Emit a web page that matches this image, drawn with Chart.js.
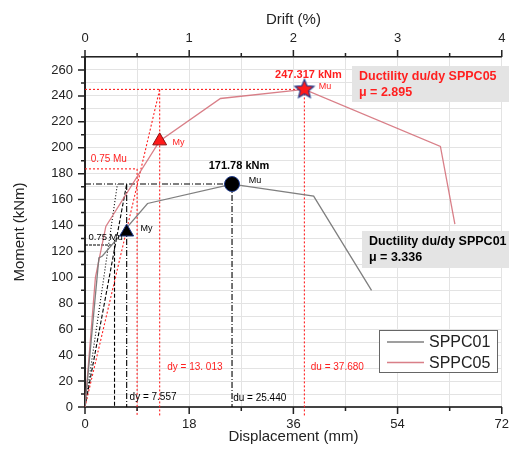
<!DOCTYPE html>
<html>
<head>
<meta charset="utf-8">
<script src="https://cdn.jsdelivr.net/npm/chart.js@4.4.1/dist/chart.umd.min.js"></script>
<style>
	html, body { margin: 0; padding: 0; background: #ffffff; }
	#wrap { width: 509px; height: 461px; }
</style>
</head>
<body>
<div id="wrap"><canvas id="moment-chart" width="509" height="461"></canvas></div>
<script>
// Moment - displacement curves, SPPC01 vs SPPC05
var seriesNames = ['SPPC01', 'SPPC05'];

// Displacement (mm) / moment (kNm)
var sppc01Disp   = [0, 2.4, 3.0, 10.8, 25.4, 39.5, 49.5];
var sppc01Moment = [0, 115, 116.5, 157, 172, 162.7, 90];
var sppc05Disp   = [0, 1.8, 3.6, 12.9, 23.4, 37.9, 61.4, 63.9];
var sppc05Moment = [0, 100, 139.3, 205.3, 238, 245, 201, 141];

// Yield / ultimate points  [disp, moment]
var sppc01Yield = [7.2, 135];
var sppc01Ult   = [25.4, 172];
var sppc05Yield = [12.9, 205.3];
var sppc05Ult   = [37.9, 245];

// Construction values
var sppc01Dy = 7.2, sppc01Du = 25.4, sppc01Mu = 172, sppc01Mu75 = 129, sppc01D75 = 5.1;
var sppc05Dy = 12.9, sppc05Du = 37.9, sppc05Mu = 245, sppc05Mu75 = 183.7, sppc05D75 = 9.0;

// Axis ticks
var dispTicks  = [0, 18, 36, 54, 72];
var driftTicks = [0, 1, 2, 3, 4];
var momentTicks = [0, 20, 40, 60, 80, 100, 120, 140, 160, 180, 200, 220, 240, 260];

(function () {
	'use strict';

	var FONT = '"Liberation Sans", Arial, sans-serif';
	var GREY = 'rgba(120, 120, 120, 0.95)';
	var PINK = 'rgba(210, 105, 115, 0.85)';
	var RED = '#ff1f1f';

	function pts(xs, ys) {
		var out = [];
		for (var i = 0; i < xs.length; i++) {
			out.push({ x: xs[i], y: ys[i] });
		}
		return out;
	}

	// filled star used for the SPPC05 ultimate point
	function makeStar(r, fill, stroke) {
		var c = document.createElement('canvas');
		var s = r * 2 + 4;
		c.width = s;
		c.height = s;
		var g = c.getContext('2d');
		g.beginPath();
		for (var i = 0; i < 10; i++) {
			var rad = i % 2 === 0 ? r : r * 0.45;
			var a = -Math.PI / 2 + i * Math.PI / 5;
			g.lineTo(s / 2 + rad * Math.cos(a), s / 2 + rad * Math.sin(a));
		}
		g.closePath();
		g.fillStyle = fill;
		g.fill();
		g.lineWidth = 1.2;
		g.strokeStyle = stroke;
		g.stroke();
		return c;
	}

	function guide(data, color, dash) {
		return {
			type: 'scatter',
			data: data,
			showLine: true,
			borderColor: color,
			borderWidth: 1.1,
			borderDash: dash,
			pointRadius: 0,
			fill: false,
			clip: false
		};
	}

	var redDot = [2, 2];
	var dashDot = [6, 2, 1, 2];
	var dashed = [4, 2];

	var datasets = [
		// markers on top
		{ type: 'scatter', data: [{ x: sppc05Ult[0], y: sppc05Ult[1] }], pointStyle: makeStar(10, '#ff1a1a', '#1f3a8a'), pointRadius: 10, clip: false },
		{ type: 'scatter', data: [{ x: sppc01Ult[0], y: sppc01Ult[1] }], pointStyle: 'circle', pointRadius: 7.5, backgroundColor: '#000000', borderColor: '#1f3a8a', borderWidth: 1 },
		{ type: 'scatter', data: [{ x: sppc05Yield[0], y: sppc05Yield[1] }], pointStyle: 'triangle', pointRadius: 8, backgroundColor: '#ff1a1a', borderColor: '#8a1010', borderWidth: 1 },
		{ type: 'scatter', data: [{ x: sppc01Yield[0], y: sppc01Yield[1] }], pointStyle: 'triangle', pointRadius: 8, backgroundColor: '#000000', borderColor: '#1f3a8a', borderWidth: 1 },

		// test curves
		{ label: seriesNames[0], type: 'scatter', data: pts(sppc01Disp, sppc01Moment), showLine: true, borderColor: GREY, borderWidth: 1.3, pointRadius: 0, isSeries: true },
		{ label: seriesNames[1], type: 'scatter', data: pts(sppc05Disp, sppc05Moment), showLine: true, borderColor: PINK, borderWidth: 1.3, pointRadius: 0, isSeries: true },

		// SPPC05 construction lines (red dotted)
		guide([{ x: 0, y: sppc05Mu }, { x: sppc05Du, y: sppc05Mu }], RED, redDot),
		guide([{ x: sppc05Du, y: sppc05Mu }, { x: sppc05Du, y: -7 }], RED, redDot),
		guide([{ x: 0, y: 0 }, { x: sppc05Dy, y: sppc05Mu }], RED, redDot),
		guide([{ x: sppc05Dy, y: sppc05Mu }, { x: sppc05Dy, y: -7 }], RED, redDot),
		guide([{ x: 0, y: sppc05Mu75 }, { x: sppc05D75, y: sppc05Mu75 }], RED, redDot),
		guide([{ x: sppc05D75, y: sppc05Mu75 }, { x: sppc05D75, y: -7 }], RED, redDot),

		// SPPC01 construction lines (black)
		guide([{ x: 0, y: sppc01Mu }, { x: sppc01Du, y: sppc01Mu }], '#000000', dashDot),
		guide([{ x: sppc01Du, y: sppc01Mu }, { x: sppc01Du, y: 0 }], '#000000', dashDot),
		guide([{ x: sppc01Dy, y: sppc01Mu }, { x: sppc01Dy, y: 0 }], '#000000', dashDot),
		guide([{ x: 0, y: 0 }, { x: sppc01Dy, y: sppc01Mu }], '#000000', dashed),
		guide([{ x: 0, y: 0 }, { x: sppc01D75 + 0.5, y: sppc01Mu }], '#000000', [1, 2]),
		guide([{ x: sppc01D75, y: sppc01Mu75 }, { x: sppc01D75, y: 0 }], '#000000', dashed),
		guide([{ x: 0, y: sppc01Mu75 - 4 }, { x: 4.6, y: sppc01Mu75 - 4 }], '#000000', [3, 1])
	];

	// Text annotations in data coordinates
	var notes = [
		{ text: '247.317 kNm', x: 38.6, y: 256, color: RED, size: 11, bold: true, align: 'center' },
		{ text: 'Mu', x: 40.4, y: 247.5, color: RED, size: 9, align: 'left' },
		{ text: 'My', x: 15.1, y: 204, color: RED, size: 9, align: 'left' },
		{ text: '0.75 Mu', x: 1.0, y: 191, color: RED, size: 10, align: 'left' },
		{ text: '171.78 kNm', x: 26.6, y: 186, color: '#000000', size: 11, bold: true, align: 'center' },
		{ text: 'Mu', x: 28.3, y: 175, color: '#000000', size: 9, align: 'left' },
		{ text: 'My', x: 9.6, y: 138, color: '#000000', size: 9, align: 'left' },
		{ text: '0.75 Mu', x: 0.6, y: 130.5, color: '#000000', size: 9.5, align: 'left' },
		{ text: 'dy = 13. 013', x: 14.2, y: 30.4, color: RED, size: 10, align: 'left' },
		{ text: 'du = 37.680', x: 39.0, y: 30.4, color: RED, size: 10, align: 'left' },
		{ text: 'dy = 7.557', x: 7.7, y: 7.2, color: '#000000', size: 10, align: 'left' },
		{ text: 'du = 25.440', x: 25.6, y: 7.0, color: '#000000', size: 10, align: 'left' }
	];

	// Ductility boxes (pixel layout)
	var boxes = [
		{ lines: ['Ductility du/dy SPPC05', '\u03bc = 2.895'], color: RED, left: 352, top: 66, width: 157, height: 36 },
		{ lines: ['Ductility du/dy SPPC01', '\u03bc = 3.336'], color: '#000000', left: 362, top: 231, width: 147, height: 37 }
	];

	var annotationPlugin = {
		id: 'annotations',
		afterDatasetsDraw: function (chart) {
			var ctx = chart.ctx;
			var xs = chart.scales.x;
			var ys = chart.scales.y;
			ctx.save();
			ctx.textBaseline = 'middle';
			notes.forEach(function (n) {
				ctx.font = (n.bold ? 'bold ' : '') + n.size + 'px ' + FONT;
				ctx.fillStyle = n.color;
				ctx.textAlign = n.align;
				ctx.fillText(n.text, xs.getPixelForValue(n.x), ys.getPixelForValue(n.y));
			});

			boxes.forEach(function (b) {
				ctx.fillStyle = '#e4e4e4';
				ctx.fillRect(b.left, b.top, b.width, b.height);
				ctx.font = 'bold 12.5px ' + FONT;
				ctx.fillStyle = b.color;
				ctx.textAlign = 'left';
				ctx.fillText(b.lines[0], b.left + 7, b.top + 11);
				ctx.fillText(b.lines[1], b.left + 7, b.top + 27);
			});

			// legend
			var lx = 379, ly = 330, lw = 118, lh = 42;
			ctx.fillStyle = '#ffffff';
			ctx.fillRect(lx, ly, lw, lh);
			ctx.strokeStyle = '#666666';
			ctx.lineWidth = 1;
			ctx.strokeRect(lx + 0.5, ly + 0.5, lw, lh);
			var series = chart.data.datasets.filter(function (d) { return d.isSeries; });
			ctx.font = '16px ' + FONT;
			series.forEach(function (d, i) {
				var yy = ly + 12 + i * 20.5;
				ctx.strokeStyle = d.borderColor;
				ctx.lineWidth = 1.3;
				ctx.beginPath();
				ctx.moveTo(lx + 8, yy);
				ctx.lineTo(lx + 45, yy);
				ctx.stroke();
				ctx.fillStyle = '#222222';
				ctx.fillText(d.label, lx + 50, yy + 1);
			});
			ctx.restore();
		}
	};

	// Major / minor tick marks drawn outward from each axis
	var tickPlugin = {
		id: 'tickMarks',
		afterDraw: function (chart) {
			var ctx = chart.ctx;
			var area = chart.chartArea;
			ctx.save();
			ctx.strokeStyle = '#222222';
			ctx.lineWidth = 1.5;
			ctx.beginPath();
			chart.scales.x.ticks.forEach(function (t) {
				var px = chart.scales.x.getPixelForValue(t.value);
				var len = dispTicks.indexOf(t.value) >= 0 ? 7 : 4;
				ctx.moveTo(px, area.bottom);
				ctx.lineTo(px, area.bottom + len);
			});
			chart.scales.x2.ticks.forEach(function (t) {
				var px = chart.scales.x2.getPixelForValue(t.value);
				var len = driftTicks.indexOf(t.value) >= 0 ? 7 : 4;
				ctx.moveTo(px, area.top);
				ctx.lineTo(px, area.top - len);
			});
			chart.scales.y.ticks.forEach(function (t) {
				var py = chart.scales.y.getPixelForValue(t.value);
				var len = momentTicks.indexOf(t.value) >= 0 ? 7 : 4;
				ctx.moveTo(area.left, py);
				ctx.lineTo(area.left - len, py);
			});
			ctx.stroke();
			ctx.restore();
		}
	};

	var tickFont = { family: FONT, size: 13 };

	var config = {
		type: 'scatter',
		data: { datasets: datasets },
		options: {
			responsive: false,
			animation: false,
			devicePixelRatio: 1,
			// no extra room for the big markers, the plot edge stays at 72 mm
			layout: { autoPadding: false, padding: { left: 0, right: 0, top: 0, bottom: 0 } },
			plugins: {
				legend: { display: false },
				tooltip: { enabled: false }
			},
			scales: {
				x: {
					type: 'linear',
					position: 'bottom',
					min: 0,
					max: 72,
					ticks: {
						stepSize: 9,
						autoSkip: false,
						maxRotation: 0,
						padding: 0,
						color: '#222222',
						font: tickFont,
						callback: function (v) {
							return dispTicks.indexOf(v) >= 0 ? String(v) : '';
						}
					},
					// invisible tick band spaces the labels; the visible marks come from tickPlugin
					grid: { color: '#e3e3e3', drawTicks: true, tickLength: 10, tickColor: 'rgba(0,0,0,0)' },
					border: { color: '#444444', width: 2 },
					title: {
						display: true,
						text: 'Displacement (mm)',
						color: '#222222',
						font: { family: FONT, size: 15 },
						padding: { top: 0, bottom: 15 }
					},
					afterFit: function (scale) { scale.height = 54; }
				},
				x2: {
					type: 'linear',
					position: 'top',
					min: 0,
					max: 4,
					ticks: {
						stepSize: 0.5,
						autoSkip: false,
						maxRotation: 0,
						padding: 0,
						color: '#222222',
						font: tickFont,
						callback: function (v) {
							return driftTicks.indexOf(v) >= 0 ? String(v) : '';
						}
					},
					grid: { drawOnChartArea: false, drawTicks: true, tickLength: 11, tickColor: 'rgba(0,0,0,0)' },
					border: { color: '#222222', width: 1.5 },
					title: {
						display: true,
						text: 'Drift (%)',
						color: '#222222',
						font: { family: FONT, size: 15 },
						padding: { top: 11, bottom: 0 }
					},
					afterFit: function (scale) { scale.height = 57; }
				},
				y: {
					type: 'linear',
					position: 'left',
					min: 0,
					max: 270,
					ticks: {
						stepSize: 10,
						autoSkip: false,
						padding: 12,
						color: '#222222',
						font: tickFont,
						callback: function (v) {
							return momentTicks.indexOf(v) >= 0 ? String(v) : '';
						}
					},
					grid: { color: '#e3e3e3', drawTicks: false },
					border: { color: '#222222', width: 2 },
					title: {
						display: true,
						text: 'Moment (kNm)',
						color: '#222222',
						font: { family: FONT, size: 15 },
						padding: { top: 11, bottom: 0 }
					},
					afterFit: function (scale) { scale.width = 85; }
				}
			}
		},
		plugins: [annotationPlugin, tickPlugin]
	};

	new Chart(document.getElementById('moment-chart'), config);
})();
</script>
</body>
</html>
